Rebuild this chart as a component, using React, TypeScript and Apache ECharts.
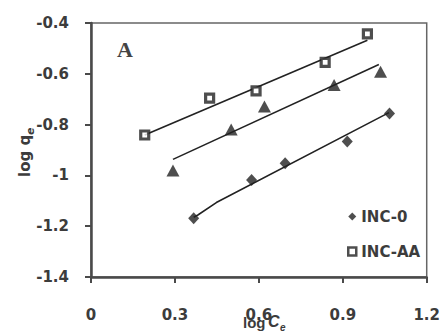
import React, { useEffect, useRef } from "react";
import * as echarts from "echarts";

// Data
const inc0X = [0.367, 0.574, 0.694, 0.916, 1.067];
const inc0Y = [-1.169, -1.018, -0.952, -0.867, -0.756];
const incAAX = [0.192, 0.424, 0.59, 0.837, 0.988];
const incAAY = [-0.841, -0.696, -0.667, -0.555, -0.443];
const incTriX = [0.293, 0.501, 0.62, 0.869, 1.035];
const incTriY = [-0.981, -0.819, -0.729, -0.644, -0.592];

// Fitted lines as drawn in the reference
const fit0 = [
  [0.367, -1.165],
  [0.382, -1.156],
  [0.448, -1.107],
  [1.065, -0.753],
];
const fitAA = [
  [0.192, -0.841],
  [0.988, -0.468],
];
const fitTri = [
  [0.293, -0.937],
  [1.029, -0.563],
];

const xTicks = { min: 0, max: 1.2, interval: 0.3 };
const yTicks = { min: -1.4, max: -0.4, interval: 0.2 };

const zip = (xs: number[], ys: number[]) => xs.map((x, i) => [x, ys[i]]);

const TXT = "#3c3c3c";
const AX = "#4a4a4a";
const MK = "#222";

export default function App() {
  const ref = useRef<HTMLDivElement>(null);
  useEffect(() => {
    if (!ref.current) return;
    const chart = echarts.init(ref.current, undefined, { renderer: "svg" });
    const lineSeries = (data: number[][]) => ({
      type: "line",
      data,
      showSymbol: false,
      symbol: "none",
      silent: true,
      lineStyle: { color: MK, width: 1.6 },
      z: 1,
    });
    chart.setOption({
      animation: false,
      backgroundColor: "#fff",
      grid: {
        left: 91,
        right: 15,
        top: 23,
        bottom: 57,
        show: true,
        borderColor: "#666",
        borderWidth: 1.5,
        backgroundColor: "transparent",
      },
      xAxis: {
        type: "value",
        min: xTicks.min,
        max: xTicks.max,
        interval: xTicks.interval,
        splitLine: { show: false },
        axisLine: { show: true, onZero: false, lineStyle: { color: AX, width: 2.5 } },
        axisTick: { show: true, length: 6, lineStyle: { color: AX, width: 2 } },
        axisLabel: {
          margin: 30,
          color: TXT,
          fontFamily: "DejaVu Sans",
          fontWeight: "bold",
          fontSize: 15,
        },
      },
      yAxis: {
        type: "value",
        min: yTicks.min,
        max: yTicks.max,
        interval: yTicks.interval,
        splitLine: { show: false },
        axisLine: { show: true, onZero: false, lineStyle: { color: AX, width: 2.5 } },
        axisTick: { show: true, length: 6, lineStyle: { color: AX, width: 2 } },
        axisLabel: {
          margin: 22,
          color: TXT,
          fontFamily: "DejaVu Sans",
          fontWeight: "bold",
          fontSize: 15,
        },
      },
      legend: {
        orient: "vertical",
        left: 342,
        top: 204,
        itemWidth: 8,
        itemHeight: 8,
        itemGap: 20,
        data: [
          { name: "INC-0" },
          { name: "INC-AA", itemStyle: { borderWidth: 2.5 } },
        ],
        textStyle: {
          color: TXT,
          fontFamily: "DejaVu Sans",
          fontWeight: "bold",
          fontSize: 15,
        },
      },
      series: [
        lineSeries(fit0),
        lineSeries(fitAA),
        lineSeries(fitTri),
        {
          name: "INC-0",
          type: "scatter",
          data: zip(inc0X, inc0Y),
          symbol: "diamond",
          symbolSize: [11, 12],
          itemStyle: { color: MK },
          z: 3,
        },
        {
          name: "INC-AA",
          type: "scatter",
          data: zip(incAAX, incAAY),
          symbol: "rect",
          symbolSize: 8,
          itemStyle: { color: "#fff", borderColor: MK, borderWidth: 3.2 },
          z: 3,
        },
        {
          name: "INC-X",
          type: "scatter",
          data: zip(incTriX, incTriY),
          symbol: "triangle",
          symbolSize: [13, 12],
          itemStyle: { color: MK },
          z: 3,
        },
      ],
      graphic: [
        {
          type: "text",
          left: 117,
          top: 38,
          style: {
            text: "A",
            fill: "#444",
            font: "bold 22px 'Liberation Serif'",
          },
        },
        {
          type: "group",
          x: 25,
          y: 150,
          rotation: Math.PI / 2,
          children: [
            {
              type: "text",
              x: -27,
              y: 0,
              style: {
                text: "log q",
                fill: TXT,
                font: "bold 15px 'DejaVu Sans'",
                align: "left",
                verticalAlign: "middle",
              },
            },
            {
              type: "text",
              x: 15,
              y: 5,
              style: {
                text: "e",
                fill: TXT,
                font: "italic bold 11px 'DejaVu Sans'",
                align: "left",
                verticalAlign: "middle",
              },
            },
          ],
        },
        {
          type: "text",
          x: 243,
          y: 322,
          style: {
            text: "log",
            fill: TXT,
            font: "bold 15px 'Liberation Sans'",
            align: "left",
            verticalAlign: "middle",
          },
        },
        {
          type: "text",
          x: 268,
          y: 321,
          style: {
            text: "C",
            fill: TXT,
            font: "italic bold 16px 'Liberation Sans'",
            align: "left",
            verticalAlign: "middle",
          },
        },
        {
          type: "text",
          x: 280,
          y: 327,
          style: {
            text: "e",
            fill: TXT,
            font: "italic bold 10px 'Liberation Sans'",
            align: "left",
            verticalAlign: "middle",
          },
        },
      ],
    });
    return () => chart.dispose();
  }, []);
  return (
    <div
      ref={ref}
      style={{ position: "fixed", left: 0, top: 0, width: 443, height: 334 }}
    />
  );
}
